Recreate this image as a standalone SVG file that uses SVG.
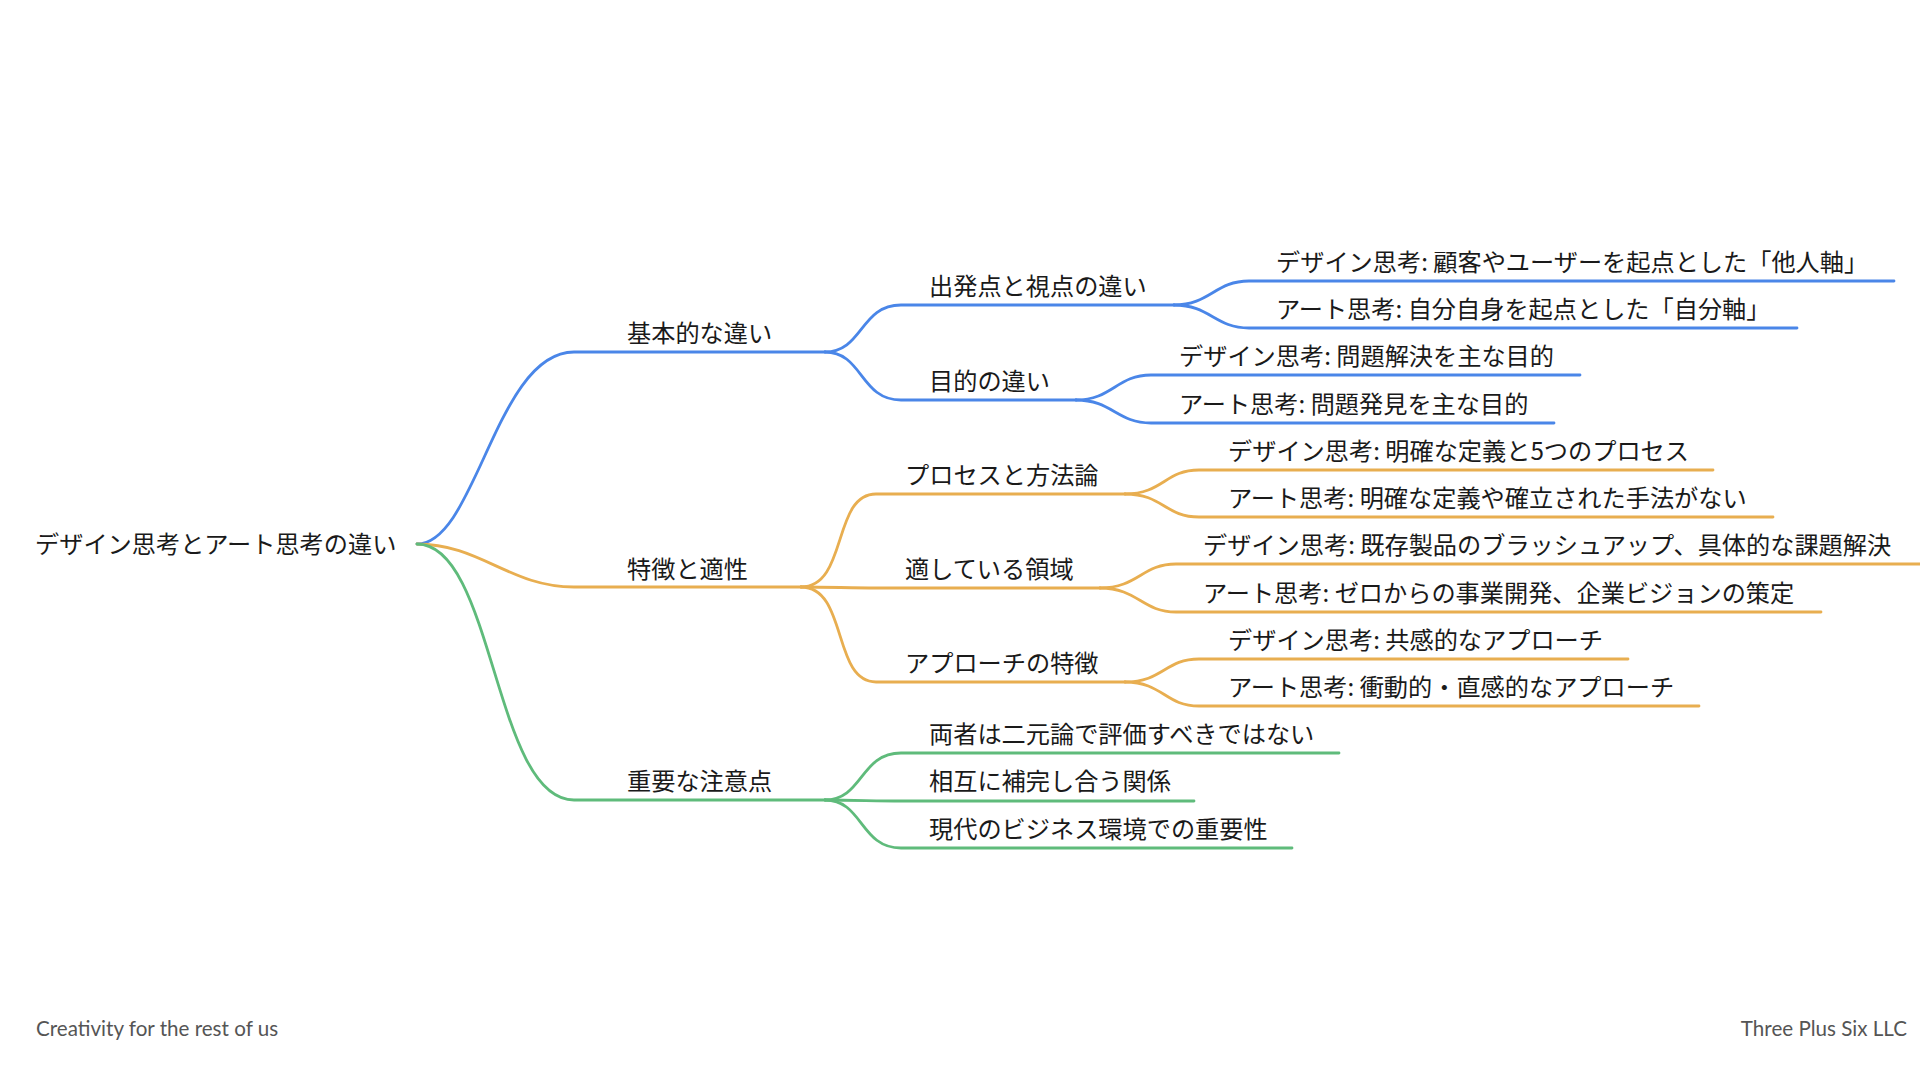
<svg xmlns="http://www.w3.org/2000/svg" width="1920" height="1080" viewBox="0 0 1920 1080">
<style>
.t{font-family:"Noto Sans CJK JP","Liberation Sans",sans-serif;font-size:24.2px;fill:#1a1a1a;font-weight:400}
.f{font-family:"Lato","Liberation Sans",sans-serif;font-size:20.6px;fill:#555}
.c{fill:none;stroke-width:2.8;stroke-linecap:round}
.b{stroke:#4a86e8}.o{stroke:#e8ae50}.g{stroke:#5fbb7b}
</style>
<rect width="1920" height="1080" fill="#fff"/>
<g id="connectors">
<path class="c b" d="M417 544C476 544 496 352 574 352H825"/>
<path class="c o" d="M417 544C480 544 510 587 574 587H801"/>
<path class="c g" d="M417 544C494 544 494 800 574 800H825"/>
<path class="c b" d="M825 352C863 352 860 305 901 305H1174"/>
<path class="c b" d="M825 352C863 352 860 400 901 400H1076"/>
<path class="c b" d="M1174 305C1210 305 1215 281 1249 281H1894"/>
<path class="c b" d="M1174 305C1210 305 1215 328 1249 328H1797"/>
<path class="c b" d="M1076 400C1112 400 1117 375 1151 375H1580"/>
<path class="c b" d="M1076 400C1112 400 1117 423 1151 423H1554"/>
<path class="c o" d="M801 587C848 587 832 494 876 494H1125"/>
<path class="c o" d="M801 587C830 587 850 588 876 588H1100"/>
<path class="c o" d="M801 587C848 587 832 682 876 682H1125"/>
<path class="c o" d="M1125 494C1163 494 1165 470 1199 470H1713"/>
<path class="c o" d="M1125 494C1163 494 1165 517 1199 517H1773"/>
<path class="c o" d="M1100 588C1138 588 1142 564 1176 564H1920"/>
<path class="c o" d="M1100 588C1138 588 1142 612 1176 612H1821"/>
<path class="c o" d="M1125 682C1163 682 1165 659 1199 659H1628"/>
<path class="c o" d="M1125 682C1163 682 1165 706 1199 706H1699"/>
<path class="c g" d="M825 800C863 800 860 753 901 753H1339"/>
<path class="c g" d="M825 800C855 800 875 801 901 801H1194"/>
<path class="c g" d="M825 800C863 800 860 848 901 848H1292"/>
</g>
<g id="root"><text class="t" x="35" y="553">デザイン思考とアート思考の違い</text></g>
<g id="n1"><text class="t" x="627" y="342">基本的な違い</text></g>
<g id="n2"><text class="t" x="627" y="578">特徴と適性</text></g>
<g id="n3"><text class="t" x="627" y="790">重要な注意点</text></g>
<g id="n11"><text class="t" x="929" y="295">出発点と視点の違い</text></g>
<g id="n12"><text class="t" x="929" y="390">目的の違い</text></g>
<g id="n21"><text class="t" x="905" y="484">プロセスと方法論</text></g>
<g id="n22"><text class="t" x="905" y="578">適している領域</text></g>
<g id="n23"><text class="t" x="905" y="672">アプローチの特徴</text></g>
<g id="n111"><text class="t" x="1276" y="271">デザイン思考: 顧客やユーザーを起点とした「他人軸」</text></g>
<g id="n112"><text class="t" x="1276" y="318">アート思考: 自分自身を起点とした「自分軸」</text></g>
<g id="n121"><text class="t" x="1179" y="365">デザイン思考: 問題解決を主な目的</text></g>
<g id="n122"><text class="t" x="1179" y="413">アート思考: 問題発見を主な目的</text></g>
<g id="n211"><text class="t" x="1228" y="460">デザイン思考: 明確な定義と5つのプロセス</text></g>
<g id="n212"><text class="t" x="1228" y="507">アート思考: 明確な定義や確立された手法がない</text></g>
<g id="n221"><text class="t" x="1203" y="554">デザイン思考: 既存製品のブラッシュアップ、具体的な課題解決</text></g>
<g id="n222"><text class="t" x="1203" y="602">アート思考: ゼロからの事業開発、企業ビジョンの策定</text></g>
<g id="n231"><text class="t" x="1228" y="649">デザイン思考: 共感的なアプローチ</text></g>
<g id="n232"><text class="t" x="1228" y="696">アート思考: 衝動的・直感的なアプローチ</text></g>
<g id="n31"><text class="t" x="929" y="743">両者は二元論で評価すべきではない</text></g>
<g id="n32"><text class="t" x="929" y="790">相互に補完し合う関係</text></g>
<g id="n33"><text class="t" x="929" y="838">現代のビジネス環境での重要性</text></g>
<g id="footer"><text class="f" x="36" y="1036">Creativity for the rest of us</text>
<text class="f" x="1907" y="1036" text-anchor="end">Three Plus Six LLC</text></g>
</svg>
